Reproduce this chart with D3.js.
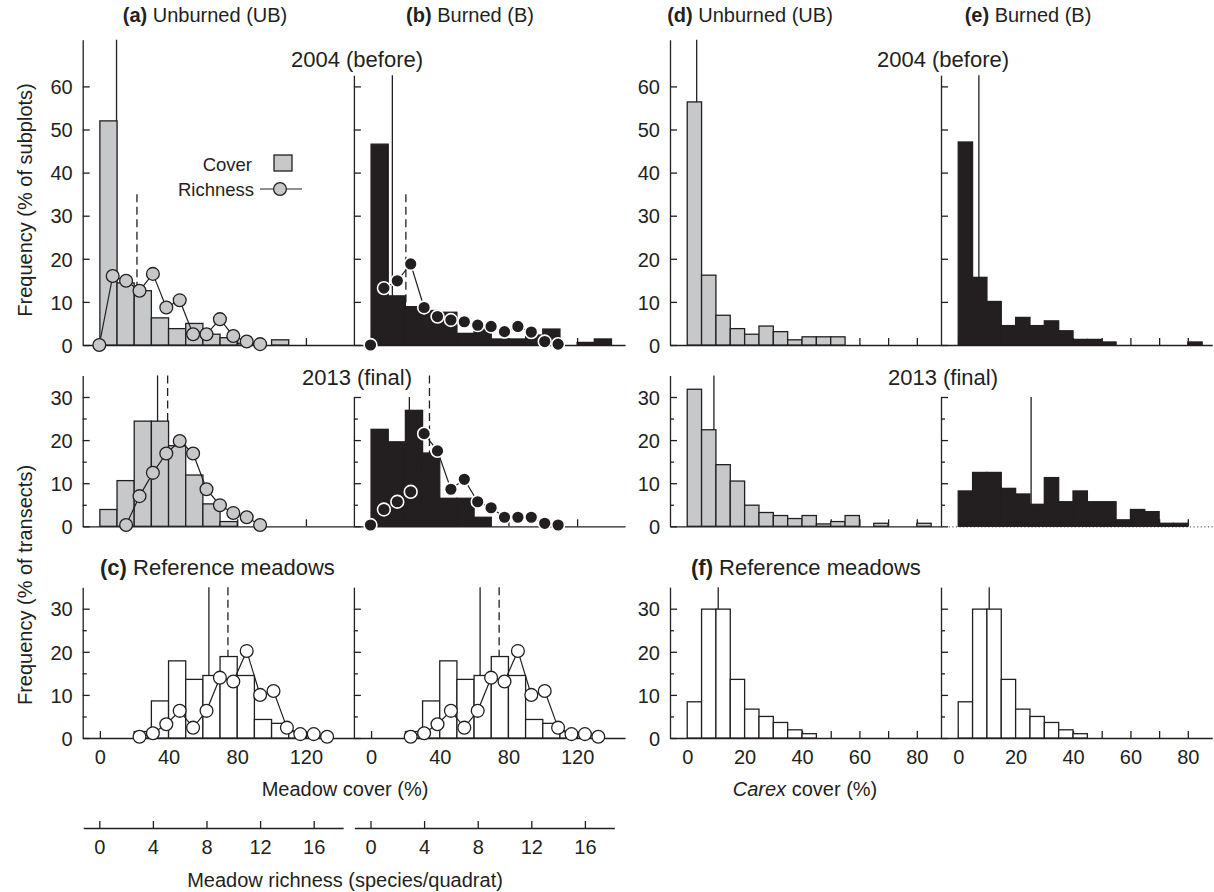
<!DOCTYPE html>
<html><head><meta charset="utf-8">
<script src="https://cdn.jsdelivr.net/npm/d3@7"></script>
<style>body{margin:0;background:#fff}svg{display:block;font-family:"Liberation Sans",Arial,sans-serif}</style>
</head><body><svg id="c" width="1214" height="892"></svg>
<script>
// ---------------- DATA ----------------
// meadow cover histograms (bins of 10 % starting at 0)
const aCover2004 = [52, 14.4, 12.6, 6.3, 3.8, 5.0, 2.5, 1.7, 0.4, 0, 1.2];
const bCover2004 = [46.6, 11.4, 8.9, 8.0, 7.6, 2.7, 4.0, 1.4, 1.4, 2.3, 3.7, 0, 0.6, 1.4];
const aCover2013 = [3.9, 10.6, 24.4, 24.4, 18.7, 11.9, 5.2, 1.1];
const bCover2013 = [22.5, 19.6, 26.9, 17.0, 6.5, 6.5, 2.1];
const refCover   = [0, 0, 1.5, 8.6, 17.9, 13.6, 14.5, 18.9, 14.5, 4.3, 3.4, 1.5];
// meadow richness frequencies (species/quadrat, starting richness given)
const aRich2004 = [0, 16.0, 14.9, 12.6, 16.5, 8.7, 10.4, 2.5, 2.5, 6.0, 2.1, 0.8, 0.2];   // from 0
const bRich2004 = [0, 13.2, 14.9, 18.8, 8.7, 6.6, 5.8, 5.4, 4.6, 4.3, 3.1, 4.3, 3.0, 0.8, 0.2]; // from 0
const aRich2013 = [0.3, 7.0, 12.4, 16.9, 19.8, 16.9, 8.6, 4.9, 3.1, 2.1, 0.3];             // from 2
const bRich2013 = [0.3, 3.9, 5.7, 8.0, 21.5, 17.5, 8.6, 10.9, 5.7, 4.3, 2.1, 2.1, 2.1, 0.7, 0.3]; // from 0
const refRich   = [0.3, 1.1, 3.2, 6.3, 2.4, 6.3, 14.0, 13.1, 20.2, 10.0, 10.9, 2.4, 0.9, 0.9, 0.3]; // from 3
const richStart = {a2004: 0, b2004: 0, a2013: 2, b2013: 0, ref: 3};
// Carex cover histograms (bins of 5 % starting at 0)
const dCarex2004 = [56.4, 16.2, 6.9, 3.8, 2.5, 4.4, 3.1, 1.2, 1.9, 1.9, 1.9];
const eCarex2004 = [47.1, 15.7, 10.1, 4.5, 6.4, 4.5, 5.6, 3.3, 1.3, 1.3, 0.7, 0, 0, 0, 0, 0, 0.7];
const dCarex2013 = [31.8, 22.4, 14.3, 10.5, 4.9, 3.2, 2.5, 1.8, 2.5, 0.55, 1.1, 2.5, 0, 0.7, 0, 0, 0.7];
const eCarex2013 = [8.2, 12.5, 12.5, 8.8, 7.5, 5.1, 11.3, 5.7, 8.2, 5.7, 5.7, 1.5, 3.9, 3.4, 0.7, 0.7];
const refCarex   = [8.4, 29.9, 29.9, 13.6, 6.7, 5.0, 3.6, 1.9, 1.0];
// means (solid = cover, dashed = richness)
const meanCover = {a2004: 9.7, b2004: 12.4, a2013: 33.6, b2013: 22.3, ref: 63.5};
const meanRich  = {a2004: 2.81, b2004: 2.64, a2013: 5.1, b2013: 4.4, ref: 9.6};
const meanCarex = {d2004: 3.3, e2004: 7.2, d2013: 9.3, e2013: 25.4, ref: 10.8};
// tick labels
const yTicksRow1 = [0, 10, 20, 30, 40, 50, 60];
const yTicksRow23 = [0, 10, 20, 30];
const coverTicks = [0, 40, 80, 120];
const carexTicks = [0, 10, 20, 30, 40, 50, 60, 70, 80];
const carexLabels = [0, 20, 40, 60, 80];
const richTicks = [0, 4, 8, 12, 16];

// ---------------- LAYOUT ----------------
const INK = "#231f20", GRAY = "#c7c8ca";
const svg = d3.select("#c");
const LX = [82.7, 353.9], RX = [670, 941], PW = 271.2;
const ROWY = [345, 526.3, 738], K = 4.31;
const TOP1 = [70.8, 35, 35], TOP2 = [62.6, 30, 35];

const coverX = x0 => d3.scaleLinear().domain([-10, -10 + PW / 1.717]).range([x0, x0 + PW]);
const carexX = x0 => d3.scaleLinear().domain([-6, -6 + PW / 2.87]).range([x0, x0 + PW]);
const richX  = x0 => { const o = x0 + 16.6; return d3.scaleLinear().domain([0, 1]).range([o, o + 13.4]); };
const yS = (row, top) => d3.scaleLinear().domain([0, top]).range([ROWY[row], ROWY[row] - top * K]);

function styleAxis(g) {
  g.selectAll("path,line").attr("stroke", INK).attr("stroke-width", 1.3);
  g.selectAll("text").attr("fill", INK).attr("font-size", 20).attr("font-family", "Liberation Sans, Arial, sans-serif");
}

function panel(o) {
  const g = svg.append("g");
  const y = yS(o.row, o.top);
  const y0 = ROWY[o.row];
  // y axis
  const ya = d3.axisLeft(y).tickValues(o.yTicks.filter(v => v <= o.top + 0.01))
    .tickSizeInner(-7).tickSizeOuter(0).tickPadding(10)
    .tickFormat(o.yLabels ? d3.format("d") : "");
  g.append("g").attr("transform", `translate(${o.x0},0)`).call(ya).call(styleAxis)
    .selectAll("text").attr("dy", "0.36em");
  if (o.minor) {
    const ym = d3.axisLeft(y).tickValues([5, 15, 25].filter(v => v <= o.top)).tickSizeInner(-4).tickSizeOuter(0).tickFormat("");
    g.append("g").attr("transform", `translate(${o.x0},0)`).call(ym).call(styleAxis).select(".domain").remove();
  }
  // x axis
  const xa = d3.axisBottom(o.xs).tickValues(o.xTicks).tickSizeInner(-7).tickSizeOuter(0).tickPadding(12)
    .tickFormat(d => o.xLabels && o.xLabels.includes(d) ? d : "");
  const xg = g.append("g").attr("transform", `translate(0,${y0})`).call(xa).call(styleAxis);
  if (o.dotted) xg.select(".domain").attr("stroke", "#666").attr("stroke-width", 1.2).attr("stroke-dasharray", "1.2,2.4");
  // mean lines
  const yTopPx = y(o.top);
  g.append("line").attr("x1", o.xs(o.meanC)).attr("x2", o.xs(o.meanC)).attr("y1", yTopPx).attr("y2", y0)
    .attr("stroke", INK).attr("stroke-width", 1.3);
  if (o.meanR != null) {
    const rx = o.rx;
    g.append("line").attr("x1", rx(o.meanR)).attr("x2", rx(o.meanR)).attr("y1", y(35)).attr("y2", y0)
      .attr("stroke", INK).attr("stroke-width", 1.3).attr("stroke-dasharray", "8,4.5");
  }
  // bars
  g.selectAll("rect.bar").data(o.bins.map((v, i) => ({v, i})).filter(d => d.v > 0)).join("rect")
    .attr("x", d => o.xs(d.i * o.binW)).attr("width", o.xs(o.binW) - o.xs(0))
    .attr("y", d => y(d.v)).attr("height", d => y0 - y(d.v))
    .attr("fill", o.fill).attr("stroke", INK).attr("stroke-width", 1.3);
  // richness
  if (o.rich) {
    const pts = o.rich.map((v, i) => [o.rx(o.rs + i), y(v)]);
    g.append("path").attr("d", d3.line()(pts)).attr("fill", "none").attr("stroke", INK).attr("stroke-width", 1.2);
    g.selectAll("circle.r").data(pts).join("circle").attr("cx", d => d[0]).attr("cy", d => d[1]).attr("r", 6.4)
      .attr("fill", o.cfill).attr("stroke", o.cstroke).attr("stroke-width", o.cstroke === "#fff" ? 1.6 : 1.3);
  }
}

// ----- left group (meadow) -----
const cfg = [
  {row: 0, p: 0, bins: aCover2004, rich: aRich2004, rs: richStart.a2004, mc: meanCover.a2004, mr: meanRich.a2004, fill: GRAY, cf: GRAY, cs: INK, top: TOP1[0], yl: true},
  {row: 0, p: 1, bins: bCover2004, rich: bRich2004, rs: richStart.b2004, mc: meanCover.b2004, mr: meanRich.b2004, fill: INK, cf: INK, cs: "#fff", top: TOP2[0], yl: false},
  {row: 1, p: 0, bins: aCover2013, rich: aRich2013, rs: richStart.a2013, mc: meanCover.a2013, mr: meanRich.a2013, fill: GRAY, cf: GRAY, cs: INK, top: TOP1[1], yl: true},
  {row: 1, p: 1, bins: bCover2013, rich: bRich2013, rs: richStart.b2013, mc: meanCover.b2013, mr: meanRich.b2013, fill: INK, cf: INK, cs: "#fff", top: TOP2[1], yl: false},
  {row: 2, p: 0, bins: refCover, rich: refRich, rs: richStart.ref, mc: meanCover.ref, mr: meanRich.ref, fill: "#fff", cf: "#fff", cs: INK, top: TOP1[2], yl: true},
  {row: 2, p: 1, bins: refCover, rich: refRich, rs: richStart.ref, mc: meanCover.ref, mr: meanRich.ref, fill: "#fff", cf: "#fff", cs: INK, top: TOP2[2], yl: false}
];
cfg.forEach(c => {
  const x0 = LX[c.p];
  panel({row: c.row, x0, top: c.top, yTicks: c.row === 0 ? yTicksRow1 : yTicksRow23, yLabels: c.yl, minor: c.row > 0,
    xs: coverX(x0), xTicks: coverTicks, xLabels: c.row === 2 ? coverTicks : null, binW: 10, bins: c.bins, fill: c.fill,
    rich: c.rich, rs: c.rs, rx: richX(x0), cfill: c.cf, cstroke: c.cs, meanC: c.mc, meanR: c.mr});
});

// ----- right group (Carex) -----
const cfgR = [
  {row: 0, p: 0, bins: dCarex2004, mc: meanCarex.d2004, fill: GRAY, top: TOP1[0], yl: true},
  {row: 0, p: 1, bins: eCarex2004, mc: meanCarex.e2004, fill: INK, top: TOP2[0], yl: false},
  {row: 1, p: 0, bins: dCarex2013, mc: meanCarex.d2013, fill: GRAY, top: TOP1[1], yl: true},
  {row: 1, p: 1, bins: eCarex2013, mc: meanCarex.e2013, fill: INK, top: TOP2[1], yl: false, dotted: true},
  {row: 2, p: 0, bins: refCarex, mc: meanCarex.ref, fill: "#fff", top: TOP1[2], yl: true},
  {row: 2, p: 1, bins: refCarex, mc: meanCarex.ref, fill: "#fff", top: TOP2[2], yl: false}
];
cfgR.forEach(c => {
  const x0 = RX[c.p];
  panel({row: c.row, x0, top: c.top, yTicks: c.row === 0 ? yTicksRow1 : yTicksRow23, yLabels: c.yl, minor: c.row > 0,
    xs: carexX(x0), xTicks: carexTicks, xLabels: c.row === 2 ? carexLabels : null, binW: 5, bins: c.bins, fill: c.fill,
    meanC: c.mc, meanR: null, dotted: c.dotted});
});

// ----- bottom richness axes -----
[0, 1].forEach(p => {
  const r = richX(LX[p]);
  const rs = d3.scaleLinear().domain([-1.2, 18.2]).range([r(-1.2), r(18.2)]);
  const a = d3.axisBottom(rs).tickValues(richTicks).tickSizeInner(-7).tickSizeOuter(0).tickPadding(12);
  svg.append("g").attr("transform", "translate(0,828)").call(a).call(styleAxis);
});

// ----- texts -----
function txt(x, y, s, size, anchor, extra) {
  const t = svg.append("text").attr("x", x).attr("y", y).attr("font-size", size).attr("fill", INK)
    .attr("text-anchor", anchor || "middle");
  if (extra) extra(t); else t.text(s);
  return t;
}
function boldLead(lead, rest) { return t => { t.append("tspan").attr("font-weight", "bold").text(lead); t.append("tspan").text(rest); }; }
txt(205, 22, null, 20, "middle", boldLead("(a)", " Unburned (UB)"));
txt(470, 22, null, 20, "middle", boldLead("(b)", " Burned (B)"));
txt(750, 22, null, 20, "middle", boldLead("(d)", " Unburned (UB)"));
txt(1028, 22, null, 20, "middle", boldLead("(e)", " Burned (B)"));
txt(357, 67, "2004 (before)", 22);
txt(943, 67, "2004 (before)", 22);
txt(357, 385, "2013 (final)", 22);
txt(943, 385, "2013 (final)", 22);
txt(100, 575, null, 22, "start", boldLead("(c)", " Reference meadows"));
txt(691, 575, null, 22, "start", boldLead("(f)", " Reference meadows"));
txt(345, 796, "Meadow cover (%)", 20);
txt(805, 796, null, 20, "middle", t => { t.append("tspan").attr("font-style", "italic").text("Carex"); t.append("tspan").text(" cover (%)"); });
txt(345, 887, "Meadow richness (species/quadrat)", 20);
svg.append("text").attr("transform", "translate(32,200) rotate(-90)").attr("text-anchor", "middle")
  .attr("font-size", 20).attr("fill", INK).text("Frequency (% of subplots)");
svg.append("text").attr("transform", "translate(32,585) rotate(-90)").attr("text-anchor", "middle")
  .attr("font-size", 20).attr("fill", INK).text("Frequency (% of transects)");

// ----- legend -----
txt(252, 171, "Cover", 18.5, "end");
svg.append("rect").attr("x", 274).attr("y", 155).attr("width", 18).attr("height", 16).attr("fill", GRAY).attr("stroke", INK).attr("stroke-width", 1.3);
txt(254, 196, "Richness", 18.5, "end");
svg.append("line").attr("x1", 260).attr("x2", 302).attr("y1", 189).attr("y2", 189).attr("stroke", INK).attr("stroke-width", 1.2);
svg.append("circle").attr("cx", 280).attr("cy", 189).attr("r", 6.4).attr("fill", GRAY).attr("stroke", INK).attr("stroke-width", 1.3);
</script></body></html>
